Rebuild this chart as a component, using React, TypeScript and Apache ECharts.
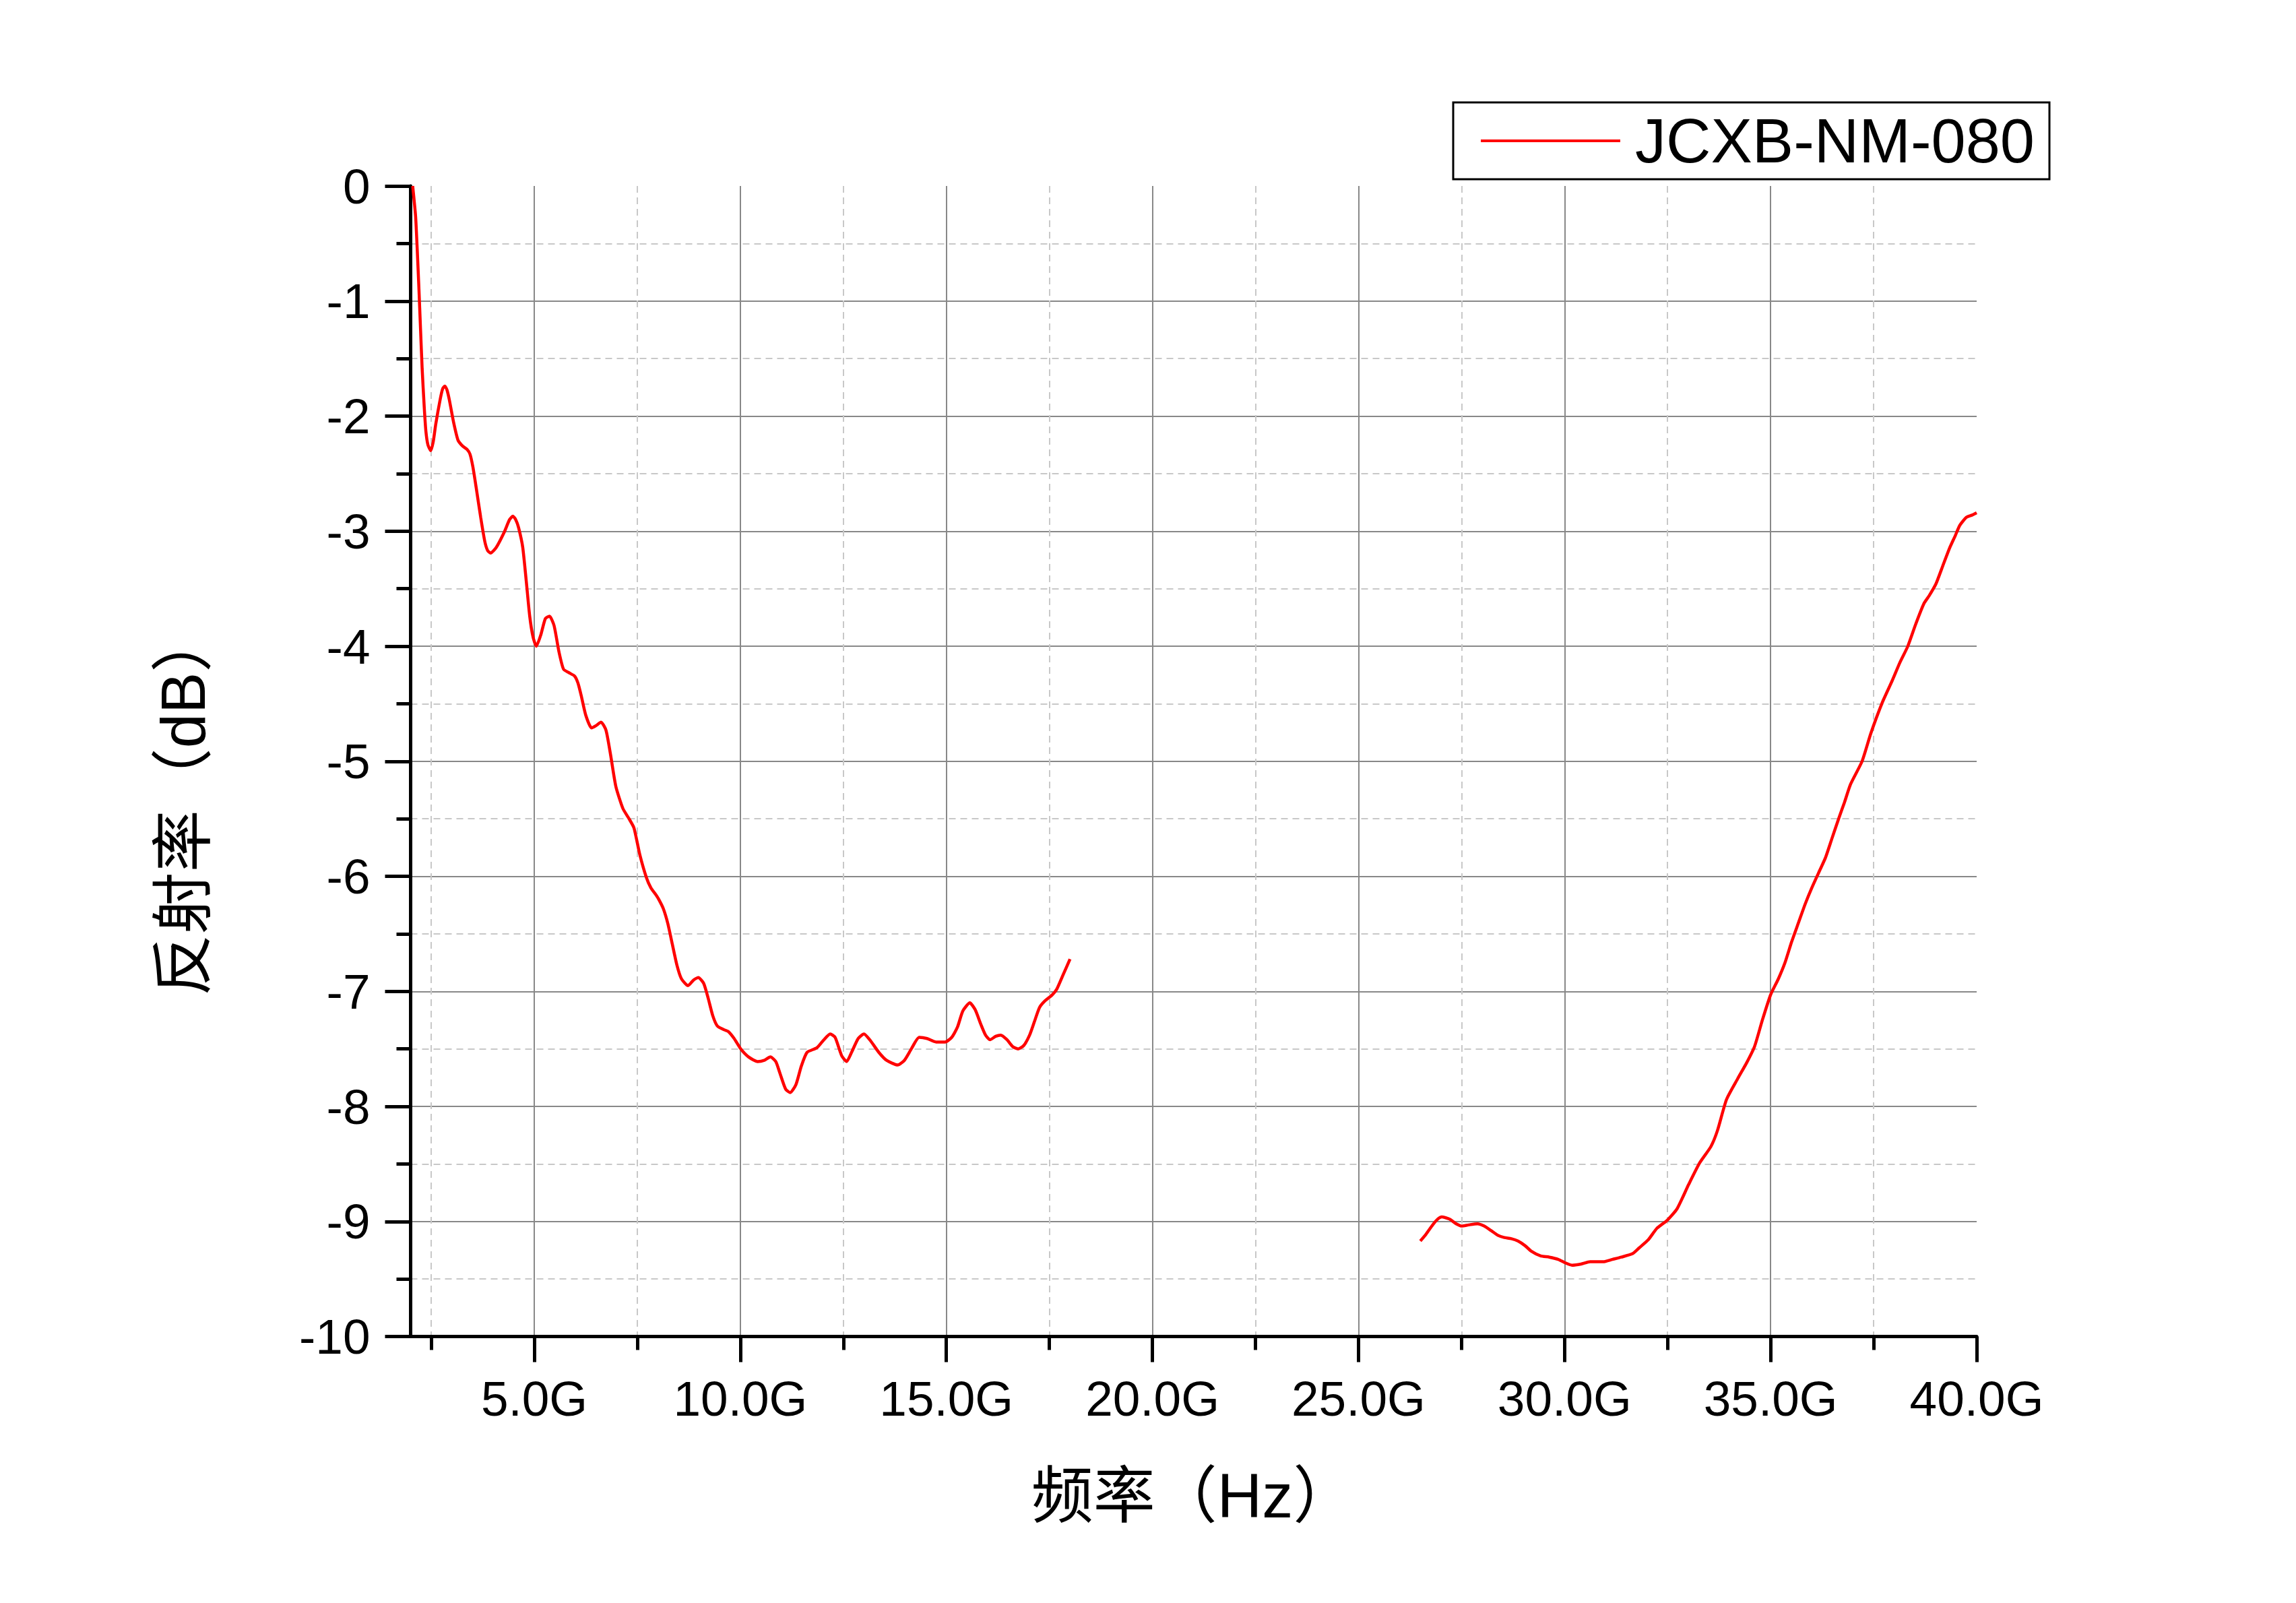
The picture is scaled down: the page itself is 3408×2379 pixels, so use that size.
import React, { useEffect, useRef } from 'react';
import * as echarts from 'echarts';

const seriesName = 'JCXB-NM-080';

// Segment 1: 2 – 18 GHz
const freqLow = [
  2.05, 2.12, 2.16, 2.2, 2.24, 2.28, 2.33, 2.37, 2.42, 2.49, 2.55, 2.61, 2.72, 2.78, 2.83, 2.88, 2.94,
  3.04, 3.15, 3.26, 3.37, 3.44, 3.51, 3.59, 3.7, 3.8, 3.87, 3.94, 4.08, 4.27, 4.4, 4.48, 4.55, 4.62,
  4.72, 4.81, 4.89, 4.97, 5.05, 5.16, 5.27, 5.37, 5.48, 5.6, 5.71, 5.84, 5.98, 6.06, 6.14, 6.25, 6.39,
  6.5, 6.62, 6.74, 6.85, 6.98, 7.15, 7.3, 7.42, 7.56, 7.72, 7.83, 7.95, 8.02, 8.13, 8.24, 8.35, 8.46,
  8.57, 8.73, 8.87, 8.98, 9.11, 9.22, 9.33, 9.44, 9.58, 9.71, 9.85, 10.01, 10.2, 10.42, 10.58, 10.73,
  10.86, 10.96, 11.1, 11.21, 11.35, 11.48, 11.62, 11.86, 12.03, 12.18, 12.3, 12.46, 12.58, 12.7, 12.86,
  13.0, 13.16, 13.36, 13.55, 13.82, 13.98, 14.15, 14.34, 14.53, 14.75, 14.97, 15.13, 15.27, 15.4, 15.57,
  15.7, 15.84, 15.95, 16.06, 16.2, 16.32, 16.47, 16.61, 16.74, 16.88, 17.02, 17.13, 17.26, 17.4, 17.57,
  17.68, 17.84, 18.0,
];
const reflLow = [
  0, -0.26, -0.55, -0.88, -1.24, -1.59, -1.92, -2.13, -2.25, -2.3, -2.22, -2.07, -1.85, -1.76, -1.74, -1.77, -1.86,
  -2.05, -2.21, -2.26, -2.29, -2.33, -2.44, -2.62, -2.88, -3.09, -3.17, -3.19, -3.14, -3.01, -2.9, -2.87, -2.9, -2.97,
  -3.14, -3.45, -3.74, -3.92, -4.0, -3.9, -3.76, -3.74, -3.82, -4.05, -4.2, -4.23, -4.26, -4.32, -4.43, -4.6, -4.71,
  -4.69, -4.66, -4.73, -4.94, -5.22, -5.41, -5.5, -5.58, -5.81, -6.01, -6.1, -6.16, -6.2, -6.28, -6.41, -6.59, -6.77,
  -6.89, -6.95, -6.9, -6.88, -6.93, -7.06, -7.21, -7.3, -7.33, -7.35, -7.41, -7.5, -7.57, -7.61, -7.6, -7.57,
  -7.61, -7.71, -7.85, -7.88, -7.81, -7.65, -7.53, -7.49, -7.42, -7.37, -7.4, -7.56, -7.61, -7.53, -7.41,
  -7.37, -7.43, -7.53, -7.6, -7.64, -7.6, -7.5, -7.4, -7.41, -7.44, -7.44, -7.4, -7.31, -7.17, -7.1,
  -7.16, -7.29, -7.38, -7.42, -7.39, -7.38, -7.42, -7.48, -7.5, -7.47, -7.38, -7.27, -7.14, -7.08, -7.03,
  -6.98, -6.85, -6.72,
];

// Segment 2: 26.5 – 40 GHz
const freqHigh = [
  26.5, 26.64, 26.8, 26.92, 27.02, 27.21, 27.37, 27.51, 27.67, 27.89, 28.05, 28.22, 28.38, 28.54, 28.71,
  28.87, 29.04, 29.2, 29.42, 29.63, 29.85, 30.02, 30.18, 30.4, 30.62, 30.94, 31.16, 31.38, 31.65, 31.81,
  32.03, 32.24, 32.49, 32.73, 33.01, 33.28, 33.55, 33.71, 33.93, 34.2, 34.42, 34.61, 34.8, 35.0, 35.19,
  35.35, 35.51, 35.68, 35.84, 36.0, 36.19, 36.33, 36.49, 36.66, 36.79, 36.94, 37.22, 37.43, 37.71, 37.95,
  38.14, 38.33, 38.52, 38.72, 38.85, 39.01, 39.18, 39.34, 39.48, 39.59, 39.75, 39.89, 40.0,
];
const reflHigh = [
  -9.17, -9.11, -9.03, -8.98, -8.96, -8.98, -9.02, -9.04, -9.03, -9.02, -9.04, -9.08, -9.12, -9.14, -9.15,
  -9.17, -9.21, -9.26, -9.3, -9.31, -9.33, -9.36, -9.38, -9.37, -9.35, -9.35, -9.33, -9.31, -9.28, -9.23,
  -9.16, -9.06, -8.99, -8.89, -8.68, -8.49, -8.35, -8.21, -7.94, -7.76, -7.62, -7.48, -7.25, -7.03, -6.89,
  -6.75, -6.57, -6.4, -6.24, -6.1, -5.95, -5.84, -5.67, -5.49, -5.36, -5.2, -5.0, -4.76, -4.49, -4.3,
  -4.14, -4.0, -3.81, -3.63, -3.56, -3.46, -3.3, -3.15, -3.04, -2.95, -2.88, -2.86, -2.84,
];

// Axis ticks
const xMajorTicks = [5, 10, 15, 20, 25, 30, 35, 40];
const xMinorTicks = [2.5, 7.5, 12.5, 17.5, 22.5, 27.5, 32.5, 37.5];
const xMin = 2;
const xMax = 40;
const yMin = -10;
const yMax = 0;
const yInterval = 1;

const xAxisTitle = '频率（Hz）';
const yAxisTitle = '反射率（dB）';

const latinFont = "'Liberation Sans', Arial, sans-serif";
const titleFont = "'Liberation Sans', 'Noto Sans CJK SC', sans-serif";

export default function App() {
  const ref = useRef<HTMLDivElement>(null);

  useEffect(() => {
    if (!ref.current) return;
    const chart = echarts.init(ref.current, null, { renderer: 'svg' });

    const lowData = freqLow.map((f, i) => [f, reflLow[i]]);
    const highData = freqHigh.map((f, i) => [f, reflHigh[i]]);

    const black = '#000000';
    const majorGrid = { color: '#888888', width: 2, type: 'solid' as const };
    const minorGrid = { color: '#c8c8c8', width: 2, type: [10, 7] as any };

    const option: any = {
      animation: false,
      backgroundColor: '#ffffff',
      grid: { left: 609.5, top: 276, right: 474, bottom: 395.5, containLabel: false },
      legend: {
        left: 2157,
        top: 152,
        orient: 'horizontal',
        padding: [11, 22, 11, 41],
        borderColor: black,
        borderWidth: 3,
        borderRadius: 0,
        icon: 'rect',
        itemWidth: 207,
        itemHeight: 4,
        itemStyle: { color: '#ff0000' },
        textStyle: { fontFamily: latinFont, fontSize: 92, color: black, padding: [0, 0, 0, 17] },
        data: [seriesName],
      },
      xAxis: [
        {
          type: 'value',
          min: xMin,
          max: xMax,
          position: 'bottom',
          axisLine: { show: true, onZero: false, lineStyle: { color: black, width: 5 } },
          axisTick: { show: true, inside: false, length: 38, customValues: xMajorTicks, lineStyle: { color: black, width: 5 } },
          axisLabel: {
            show: true,
            customValues: xMajorTicks,
            formatter: (v: number) => v.toFixed(1) + 'G',
            margin: 55,
            fontFamily: latinFont,
            fontSize: 73,
            color: black,
          },
          splitLine: { show: true, showMinLine: true, showMaxLine: false, lineStyle: majorGrid },
        },
        {
          type: 'value',
          min: xMin,
          max: xMax,
          position: 'bottom',
          axisLine: { show: false, onZero: false },
          axisTick: { show: true, inside: false, length: 20, customValues: xMinorTicks, lineStyle: { color: black, width: 5 } },
          axisLabel: { show: false, customValues: xMinorTicks },
          splitLine: { show: true, lineStyle: minorGrid },
        },
      ],
      yAxis: {
        type: 'value',
        min: yMin,
        max: yMax,
        interval: yInterval,
        position: 'left',
        axisLine: { show: true, onZero: false, lineStyle: { color: black, width: 5 } },
        axisTick: { show: true, inside: false, length: 38, lineStyle: { color: black, width: 5 } },
        minorTick: { show: true, splitNumber: 2, length: 21, lineStyle: { color: black, width: 5 } },
        axisLabel: { margin: 60, fontFamily: latinFont, fontSize: 73, color: black },
        splitLine: { show: true, showMinLine: false, showMaxLine: false, lineStyle: majorGrid },
        minorSplitLine: { show: true, lineStyle: minorGrid },
      },
      graphic: [
        {
          type: 'text',
          x: 1771,
          y: 2220,
          style: { text: xAxisTitle, font: `92px ${titleFont}`, fill: black, align: 'center', verticalAlign: 'middle' },
        },
        {
          type: 'text',
          x: 272,
          y: 1192,
          rotation: Math.PI / 2,
          style: { text: yAxisTitle, font: `92px ${titleFont}`, fill: black, align: 'center', verticalAlign: 'middle' },
        },
      ],
      series: [
        {
          type: 'line',
          name: seriesName,
          xAxisIndex: 0,
          data: lowData,
          symbol: 'none',
          showSymbol: false,
          smooth: 0.2,
          lineStyle: { color: '#ff0000', width: 4.5 },
          itemStyle: { color: '#ff0000' },
          z: 5,
        },
        {
          type: 'line',
          name: seriesName,
          xAxisIndex: 0,
          data: highData,
          symbol: 'none',
          showSymbol: false,
          smooth: 0.2,
          lineStyle: { color: '#ff0000', width: 4.5 },
          itemStyle: { color: '#ff0000' },
          z: 5,
        },
      ],
    };

    chart.setOption(option);
    return () => {
      chart.dispose();
    };
  }, []);

  return (
    <div
      ref={ref}
      style={{ position: 'fixed', left: 0, top: 0, width: 3408, height: 2379, background: '#ffffff' }}
    />
  );
}
